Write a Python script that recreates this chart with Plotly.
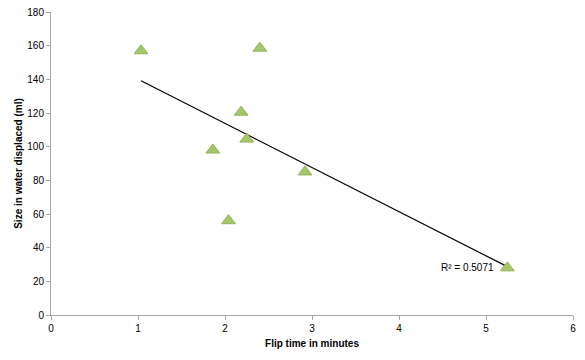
import numpy as np
import plotly.graph_objects as go

flip_time = [1.035, 2.40, 2.185, 2.25, 1.86, 2.04, 2.92, 5.245]
size_ml = [157, 158.5, 120.5, 104.5, 98, 56, 85, 28]
x_ticks = [0, 1, 2, 3, 4, 5, 6]
y_ticks = [0, 20, 40, 60, 80, 100, 120, 140, 160, 180]
r2_label = "R² = 0.5071"

slope, intercept = np.polyfit(flip_time, size_ml, 1)
tx = [min(flip_time), max(flip_time)]
ty = [slope * v + intercept for v in tx]

fig = go.Figure()
fig.add_trace(go.Scatter(x=tx, y=ty, mode="lines",
                         line=dict(color="black", width=1.2), hoverinfo="skip"))
fig.add_trace(go.Scatter(x=flip_time, y=size_ml, mode="markers",
                         marker=dict(symbol="triangle-up", size=12, color="#a5c76c",
                                     line=dict(color="#90b356", width=1))))

fig.add_annotation(x=5.12, y=28, xref="x", yref="y", text=r2_label, showarrow=False,
                   xanchor="right", yanchor="middle",
                   font=dict(family="Liberation Sans, Arial", size=10, color="#000"))

axis_common = dict(showgrid=False, zeroline=False, showline=True, linecolor="#a6a6a6",
                   linewidth=1, ticks="outside", ticklen=4, tickcolor="#a6a6a6",
                   automargin=False,
                   tickfont=dict(family="Liberation Sans, Arial", size=10, color="#000"))

fig.update_layout(
    width=585, height=360,
    margin=dict(l=51, r=12, t=12, b=45),
    plot_bgcolor="white", paper_bgcolor="white",
    showlegend=False,
    xaxis=dict(range=[0, 6], tickvals=x_ticks, **axis_common,
               title=dict(text="<b>Flip time in minutes</b>", standoff=6,
                          font=dict(family="Liberation Sans, Arial", size=10, color="#000"))),
    yaxis=dict(range=[0, 180], tickvals=y_ticks, **axis_common,
               title=dict(text="<b>Size in water displaced (ml)</b>", standoff=2,
                          font=dict(family="Liberation Sans, Arial", size=10, color="#000"))),
)

fig.write_html("out.html", config={"displayModeBar": False},
               post_script="document.body.style.margin='0';document.body.style.overflow='hidden';")
